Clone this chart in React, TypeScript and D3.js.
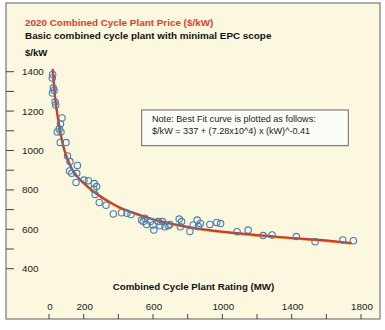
import React from "react";
import * as d3 from "d3";

// ---- data ----
const ratingMW = [21, 19, 25, 29, 20, 35, 39, 75, 66, 59, 48, 69, 65, 98, 107, 121, 164, 118, 131, 160, 156, 202, 227, 261, 275, 258, 266, 290, 329, 371, 418, 450, 473, 534, 553, 544, 563, 586, 601, 605, 630, 640, 655, 669, 688, 697, 751, 765, 758, 813, 832, 855, 873, 862, 928, 968, 990, 1085, 1149, 1235, 1287, 1427, 1535, 1695, 1756];
const pricePerKW = [1386, 1368, 1317, 1305, 1292, 1246, 1231, 1165, 1135, 1109, 1094, 1094, 1041, 1040, 972, 944, 924, 896, 884, 884, 838, 850, 847, 832, 817, 803, 777, 736, 722, 678, 684, 681, 675, 647, 656, 639, 625, 639, 622, 596, 639, 618, 639, 613, 618, 625, 652, 639, 613, 589, 622, 647, 630, 614, 625, 635, 629, 588, 596, 568, 571, 563, 537, 546, 542];

const fitMW = [21, 29, 37, 49, 63, 81, 104, 133, 167, 207, 248, 294, 352, 415, 524, 640, 755, 870, 1101, 1331, 1562, 1746];
const fitPrice = [1414, 1332, 1256, 1180, 1104, 1028, 962, 906, 865, 830, 799, 769, 738, 708, 673, 642, 620, 602, 579, 561, 546, 530];

const xTicks = [0, 200, 400, 600, 800, 1000, 1200, 1400, 1600, 1800];
const xTickLabels = [0, 200, 600, 1000, 1400, 1800];
const yTicks = [400, 500, 600, 700, 800, 900, 1000, 1100, 1200, 1300, 1400];
const yTickLabels = [400, 600, 800, 1000, 1200, 1400];

const title = "2020 Combined Cycle Plant Price ($/kW)";
const subtitle = "Basic combined cycle plant with minimal EPC scope";
const yUnit = "$/kW";
const xTitle = "Combined Cycle Plant Rating (MW)";
const noteLines = [
  "Note:  Best Fit curve is plotted as follows:",
  "$/kW = 337 + (7.28x10^4) x (kW)^-0.41",
];

const FONT = "'Liberation Sans', Arial, Helvetica, sans-serif";

export default function App() {
  const W = 385;
  const H = 330;
  const frame = { x: 6, y: 3, w: 374, h: 316 };

  const x = d3.scaleLinear().domain([0, 1800]).range([49, 361]);
  const y = d3.scaleLinear().domain([400, 1400]).range([268.7, 71.7]);

  const fitLine = d3
    .line<number>()
    .x((_, i) => x(fitMW[i]))
    .y((d) => y(d))
    .curve(d3.curveMonotoneX)(fitPrice) as string;

  const bottom = frame.y + frame.h;

  return (
    <svg
      width={W}
      height={H}
      viewBox={`0 0 ${W} ${H}`}
      style={{ position: "absolute", left: 0, top: 0, background: "#ffffff" }}
      fontFamily={FONT}
    >
      <rect x={frame.x} y={frame.y} width={frame.w} height={frame.h} fill="#fbf8df" stroke="#777" strokeWidth={1.2} />

      <text x={25} y={25.7} fill="#e23a33" fontWeight="bold" fontSize={9.9}>{title}</text>
      <text x={25} y={39.3} fill="#111" fontWeight="bold" fontSize={9.9}>{subtitle}</text>
      <text x={25} y={55.5} fill="#111" fontWeight="bold" fontSize={9.6}>{yUnit}</text>

      {/* y ticks */}
      {yTicks.map((t) => (
        <line key={"yt" + t} x1={frame.x} x2={frame.x + 8} y1={y(t)} y2={y(t)} stroke="#444" strokeWidth={1} />
      ))}
      {yTickLabels.map((t) => (
        <text key={"yl" + t} x={22} y={y(t)} dy="0.35em" fontSize={9.8} fill="#222">{t}</text>
      ))}

      {/* x ticks */}
      {xTicks.map((t) => (
        <line key={"xt" + t} x1={x(t)} x2={x(t)} y1={bottom - 5} y2={bottom} stroke="#444" strokeWidth={1} />
      ))}
      {xTickLabels.map((t) => (
        <text key={"xl" + t} x={x(t) + 1} y={309.5} textAnchor="middle" fontSize={9.8} fill="#222">{t}</text>
      ))}

      <text x={193.5} y={289.5} textAnchor="middle" fontWeight="bold" fontSize={9.7} fill="#111">{xTitle}</text>

      {/* note box */}
      <rect x={141.7} y={110} width={206.6} height={35.7} fill="#fdfdf8" stroke="#666" strokeWidth={1} />
      {noteLines.map((s, i) => (
        <text key={"n" + i} x={152} y={121.7 + i * 12.5} fontSize={9.1} fill="#222">{s}</text>
      ))}

      {/* fit curve */}
      <path d={fitLine} fill="none" stroke="#e8a640" strokeWidth={2.2} transform="translate(0,0.6)" />
      <path d={fitLine} fill="none" stroke="#cc3a2e" strokeWidth={2.2} />

      {/* points */}
      {ratingMW.map((m, i) => (
        <circle key={"p" + i} cx={x(m)} cy={y(pricePerKW[i])} r={3.2} fill="none" stroke="#4a7fab" strokeWidth={1.1} />
      ))}
    </svg>
  );
}
